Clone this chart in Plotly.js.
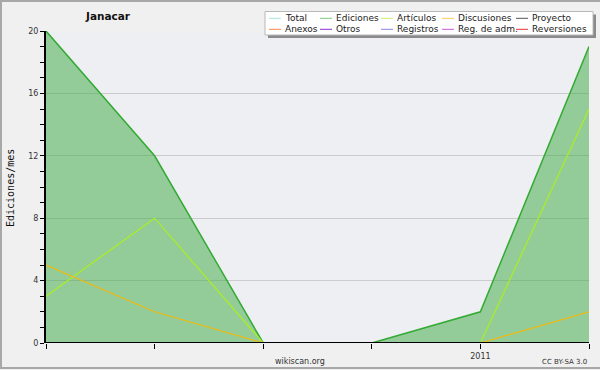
<!DOCTYPE html>
<html>
<head>
<meta charset="utf-8">
<script src="https://cdn.plot.ly/plotly-3.0.1.min.js"></script>
<style>
  html, body { margin: 0; padding: 0; background: #f0f0f0; }
  #chart { width: 600px; height: 370px; }
  #frame { position: absolute; left: 0; top: 0; width: 600px; height: 369px; box-sizing: border-box;
           border: 2px solid #a8a8a8; border-right-width: 0; pointer-events: none; }
</style>
</head>
<body>
<div id="chart"></div>
<div id="frame"></div>
<script>
// ---- data ----
const months = ['2010-09', '2010-10', '2010-11', '2010-12', '2011-01', '2011-02'];
const tickLabels = ['', '', '', '', '2011', ''];
const ediciones = [20, 12, 0, 0, 2, 19];
const articulos = [3, 8, 0, 0, 0, 15];
const discusiones = [5, 2, 0, 0, 0, 2];

const legendNames = ['Total', 'Ediciones', 'Artículos', 'Discusiones', 'Proyecto',
                     'Anexos', 'Otros', 'Registros', 'Reg. de adm.', 'Reversiones'];
const legendColors = ['#a8e4dc', '#80c880', '#ccee66', '#ffcc55', '#555555',
                      '#ff8844', '#8833cc', '#8888ee', '#cc55dd', '#ee3333'];

// ---- layout helpers (pixel -> paper) ----
const M = { l: 46, r: 11, t: 31, b: 27 };
const W = 600, H = 370;
const pw = W - M.l - M.r, ph = H - M.t - M.b;
const px = x => (x - M.l) / pw;
const py = y => (H - M.b - y) / ph;

const traces = [
  { x: months, y: ediciones, name: 'Ediciones', type: 'scatter', mode: 'lines',
    fill: 'tozeroy', fillcolor: 'rgba(58,169,63,0.5)',
    line: { color: '#33aa33', width: 1.5 }, cliponaxis: false, hoverinfo: 'skip' },
  { x: months, y: articulos, name: 'Artículos', type: 'scatter', mode: 'lines',
    line: { color: '#aaee22', width: 1.2 }, cliponaxis: false, hoverinfo: 'skip' },
  { x: months, y: discusiones, name: 'Discusiones', type: 'scatter', mode: 'lines',
    line: { color: '#eebb11', width: 1.2 }, cliponaxis: false, hoverinfo: 'skip' }
];

const shapes = [];
const annotations = [];

// x axis line drawn over the traces (like the original renderer)
shapes.push({ type: 'line', xref: 'paper', yref: 'y', x0: 0, x1: 1, y0: 0, y1: 0,
              line: { color: '#000', width: 2 }, layer: 'above' });

// legend box with shadow
shapes.push({ type: 'rect', xref: 'paper', yref: 'paper', x0: px(268), x1: px(596), y0: py(14.5), y1: py(38),
              fillcolor: '#8a8a8a', line: { width: 0 } });
shapes.push({ type: 'rect', xref: 'paper', yref: 'paper', x0: px(265), x1: px(593), y0: py(11.5), y1: py(35),
              fillcolor: '#ffffff', line: { color: '#b8b8b8', width: 1 } });

const colStarts = [269, 320, 381, 442, 516];
const rowY = [18.3, 29.3];
legendNames.forEach((name, i) => {
  const c = i % 5, r = Math.floor(i / 5);
  const x0 = colStarts[c], y = rowY[r];
  shapes.push({ type: 'line', xref: 'paper', yref: 'paper', x0: px(x0), x1: px(x0 + 12), y0: py(y), y1: py(y),
                line: { color: legendColors[i], width: 1 } });
  annotations.push({ xref: 'paper', yref: 'paper', x: px(x0 + 14), y: py(y), xanchor: 'left', yanchor: 'middle',
                     text: name, showarrow: false, font: { family: 'DejaVu Sans', size: 9, color: '#222' } });
});

// title, axis title, footer texts
annotations.push({ xref: 'paper', yref: 'paper', x: px(108), y: py(16), xanchor: 'center', yanchor: 'middle',
                   text: 'Janacar', showarrow: false,
                   font: { family: 'DejaVu Sans', size: 10.5, weight: 'bold', color: '#111' } });
annotations.push({ xref: 'paper', yref: 'paper', x: px(10), y: py(188), xanchor: 'center', yanchor: 'middle',
                   text: 'Ediciones/mes', textangle: -90, showarrow: false,
                   font: { family: 'DejaVu Sans Mono', size: 10, color: '#111' } });
annotations.push({ xref: 'paper', yref: 'paper', x: px(300), y: py(361), xanchor: 'center', yanchor: 'middle',
                   text: 'wikiscan.org', showarrow: false,
                   font: { family: 'DejaVu Sans', size: 8, color: '#333' } });
annotations.push({ xref: 'paper', yref: 'paper', x: px(589), y: py(362), xanchor: 'right', yanchor: 'middle',
                   text: 'CC BY-SA 3.0', showarrow: false,
                   font: { family: 'DejaVu Sans', size: 7, color: '#333' } });

const layout = {
  width: W, height: H,
  margin: M,
  paper_bgcolor: '#f0f0f0',
  plot_bgcolor: '#eeeff2',
  showlegend: false,
  font: { family: 'DejaVu Sans', size: 8, color: '#333' },
  xaxis: {
    type: 'category', range: [0, months.length - 1],
    tickvals: months, ticktext: tickLabels,
    showline: false,
    ticks: 'outside', ticklen: 5, tickwidth: 1, tickcolor: '#000',
    showgrid: false, zeroline: false, fixedrange: true,
    tickfont: { family: 'DejaVu Sans', size: 8, color: '#333' }
  },
  yaxis: {
    range: [0, 20], dtick: 4, tick0: 0,
    showline: true, linecolor: '#000', linewidth: 2,
    ticks: 'outside', ticklen: 4, tickwidth: 1, tickcolor: '#000',
    minor: { dtick: 1, ticks: 'outside', ticklen: 4, tickcolor: '#000', showgrid: false },
    showgrid: true, gridcolor: '#cccccc', gridwidth: 1,
    zeroline: false, fixedrange: true,
    tickfont: { family: 'DejaVu Sans', size: 8, color: '#333' }
  },
  shapes: shapes,
  annotations: annotations
};

Plotly.newPlot('chart', traces, layout, { staticPlot: true, displayModeBar: false });
</script>
</body>
</html>
